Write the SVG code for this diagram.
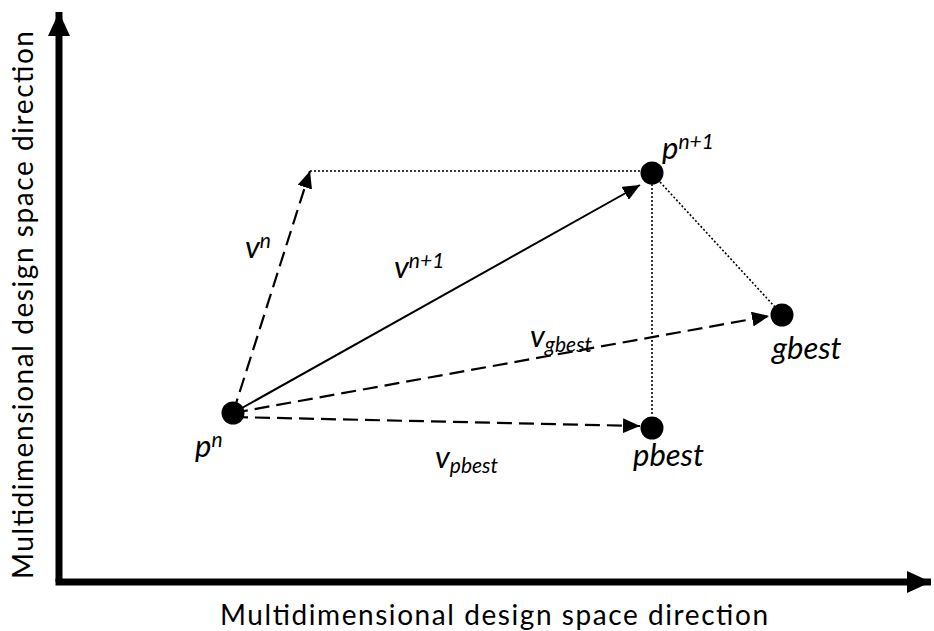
<svg xmlns="http://www.w3.org/2000/svg" width="934" height="631" viewBox="0 0 934 631">
<style>
.axis{stroke:#000;stroke-width:7;fill:none}
.solid{stroke:#000;stroke-width:2;fill:none}
.dash{stroke:#000;stroke-width:2.2;fill:none;stroke-dasharray:15 7}
.dot{stroke:#000;stroke-width:1.6;fill:none;stroke-dasharray:2 2}
.node{fill:#000}
.lbl{font-family:Lato,"Open Sans","Liberation Sans",sans-serif;font-style:italic;font-size:31px;fill:#000}
.sm{font-size:21px}
.ax{font-family:Lato,"Open Sans","Liberation Sans",sans-serif;font-size:28px;fill:#000}
</style>
<defs>
<marker id="ah" markerUnits="userSpaceOnUse" markerWidth="17" markerHeight="15" refX="17" refY="7.5" orient="auto">
<path d="M0,0 L17,7.5 L0,15 z" fill="#000"/>
</marker>
<marker id="axh" markerUnits="userSpaceOnUse" markerWidth="24" markerHeight="22" refX="24" refY="11" orient="auto">
<path d="M0,0 L24,11 L0,22 z" fill="#000"/>
</marker>
</defs>
<g id="axes">
<path class="axis" d="M59,582 L59,12" marker-end="url(#axh)"/>
<path class="axis" d="M55.5,582 L931,582" marker-end="url(#axh)"/>
<text class="ax" x="220" y="625" textLength="548" lengthAdjust="spacing">Multidimensional design space direction</text>
<text class="ax" x="33" y="579" transform="rotate(-90 33 579)" textLength="548" lengthAdjust="spacing">Multidimensional design space direction</text>
</g>
<g id="connectors">
<path class="dot" d="M310,171 L641,171"/>
<path class="dot" d="M652,184 L652,416"/>
<path class="dot" d="M660,182 L775,307"/>
<path class="dash" d="M233,413 L310,171" marker-end="url(#ah)"/>
<path class="solid" d="M233,413 L640,185" marker-end="url(#ah)"/>
<path class="dash" d="M233,413 L769,316" marker-end="url(#ah)"/>
<path class="dash" d="M233,417 L640,426" marker-end="url(#ah)"/>
</g>
<g id="node-pn">
<circle class="node" cx="233" cy="413" r="11.5"/>
<text class="lbl" x="195" y="457">p<tspan class="sm" dy="-10">n</tspan></text>
</g>
<g id="node-pn1">
<circle class="node" cx="652" cy="173" r="11.5"/>
<text class="lbl" x="662" y="159">p<tspan class="sm" dy="-10">n+1</tspan></text>
</g>
<g id="node-gbest">
<circle class="node" cx="782" cy="315" r="11.5"/>
<text class="lbl" x="772" y="359">gbest</text>
</g>
<g id="node-pbest">
<circle class="node" cx="652" cy="428" r="11.5"/>
<text class="lbl" x="633" y="466">pbest</text>
</g>
<g id="labels">
<text class="lbl" x="245" y="258">v<tspan class="sm" dy="-10">n</tspan></text>
<text class="lbl" x="394" y="278">v<tspan class="sm" dy="-10">n+1</tspan></text>
<text class="lbl" x="530" y="347">v<tspan class="sm" dy="5">gbest</tspan></text>
<text class="lbl" x="435" y="468">v<tspan class="sm" dy="5">pbest</tspan></text>
</g>
</svg>
